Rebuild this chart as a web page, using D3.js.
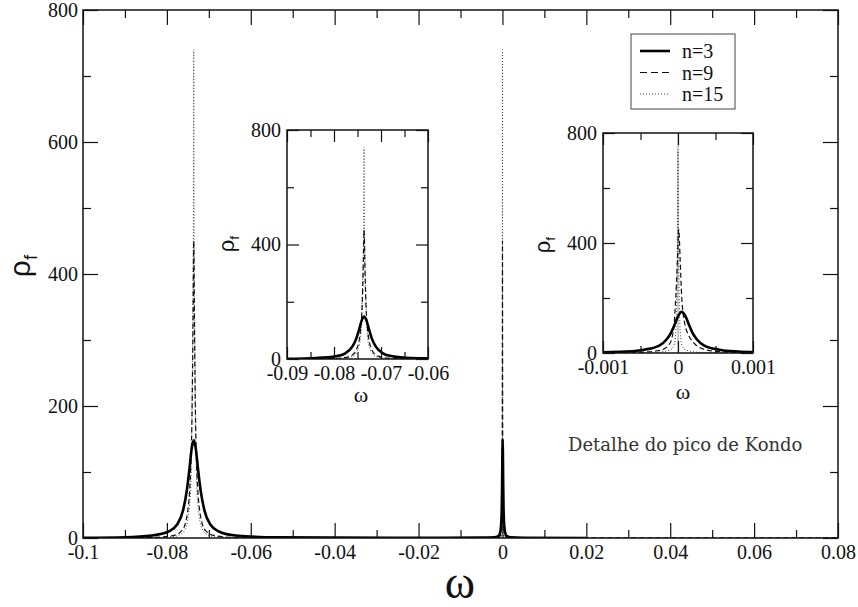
<!DOCTYPE html>
<meta charset="utf-8">
<style>
body { margin: 0; background: #fff; }
svg { display: block; }
.axis .domain { display: none; }
.axis line { stroke: #111; stroke-width: 1.2; }
.axis text { fill: #111; }
</style>
<svg width="858" height="607"></svg>
<script src="https://d3js.org/d3.v7.min.js"></script>
<script>

// rho_f(omega), [omega, rho]
var seriesN3 = [
  [-0.1, 0.4], [-0.09, 1.1], [-0.0836, 3.7], [-0.0796, 9.8], [-0.0776, 20], [-0.0761, 43],
  [-0.0752, 74], [-0.0746, 106], [-0.0741, 135], [-0.0736, 148], [-0.0731, 135], [-0.0726, 106],
  [-0.072, 74], [-0.0711, 43], [-0.0696, 20], [-0.0676, 9.8], [-0.0636, 3.7], [-0.0536, 1.0],
  [-0.04, 0.5], [-0.02, 0.4], [-0.005, 0.5], [-0.002, 0.9], [-0.001, 2.9], [-0.0007, 5.2],
  [-0.00045, 12], [-0.00025, 27], [-0.00015, 50], [-0.00009, 75], [-0.00005, 100], [0, 133],
  [0.00005, 150], [0.0001, 133], [0.00015, 100], [0.00019, 75], [0.00025, 50], [0.00035, 27],
  [0.00055, 12], [0.0008, 5.2], [0.00105, 2.9], [0.002, 0.9], [0.005, 0.3], [0.02, 0.1]
];
var seriesN9 = [
  [-0.1, 0.15], [-0.0836, 0.8], [-0.0786, 3.5], [-0.0766, 10], [-0.0756, 22], [-0.0751, 38],
  [-0.0746, 70], [-0.0743, 110], [-0.074, 190], [-0.0738, 300], [-0.0736, 450], [-0.0734, 300],
  [-0.0732, 190], [-0.0729, 110], [-0.0726, 70], [-0.0721, 38], [-0.0716, 22], [-0.0706, 10],
  [-0.0686, 3.5], [-0.0636, 0.8], [-0.04, 0.15], [-0.005, 0.12], [-0.001, 0.8], [-0.0005, 3],
  [-0.0003, 7], [-0.00018, 16], [-0.00012, 30], [-0.00008, 55], [-0.00005, 110], [-0.00003, 200],
  [-0.00001, 320], [0.00001, 450], [0.00003, 330], [0.00005, 200], [0.00007, 140], [0.0001, 95],
  [0.00014, 65], [0.0002, 40], [0.0003, 18], [0.0005, 6], [0.001, 1.2], [0.005, 0.12], [0.08, 0.05]
];
var seriesN15 = [
  [-0.1, 0.08], [-0.0836, 0.5], [-0.0786, 2], [-0.0766, 6], [-0.0756, 14], [-0.0751, 25],
  [-0.0746, 50], [-0.0743, 80], [-0.0741, 150], [-0.0739, 280], [-0.0737, 450], [-0.0736, 740],
  [-0.0735, 450], [-0.0733, 280], [-0.0731, 150], [-0.0729, 80], [-0.0726, 50], [-0.0721, 25],
  [-0.0716, 14], [-0.0706, 6], [-0.0686, 2], [-0.0636, 0.5], [-0.04, 0.08], [-0.005, 0.06],
  [-0.0005, 0.8], [-0.0003, 2], [-0.0002, 5], [-0.0001, 12], [-0.00007, 18], [-0.00004, 45],
  [-0.00002, 150], [-0.00001, 370], [0, 740], [0.00001, 370], [0.00002, 150], [0.00004, 45],
  [0.00007, 18], [0.0001, 12], [0.0002, 5], [0.0003, 2], [0.0005, 0.8], [0.005, 0.06], [0.08, 0.03]
];

var legendLabels = ["n=3", "n=9", "n=15"];

var mainXTicks = [-0.1, -0.08, -0.06, -0.04, -0.02, 0, 0.02, 0.04, 0.06, 0.08];
var mainXLabels = ["-0.1", "-0.08", "-0.06", "-0.04", "-0.02", "0", "0.02", "0.04", "0.06", "0.08"];
var mainXMinor = [-0.09, -0.07, -0.05, -0.03, -0.01, 0.01, 0.03, 0.05, 0.07];
var mainYTicks = [0, 200, 400, 600, 800];
var mainYMinor = [100, 300, 500, 700];

var inset1XTicks = [-0.09, -0.08, -0.07, -0.06];
var inset1XLabels = ["-0.09", "-0.08", "-0.07", "-0.06"];
var inset1XMinor = [-0.085, -0.075, -0.065];
var inset2XTicks = [-0.001, 0, 0.001];
var inset2XLabels = ["-0.001", "0", "0.001"];
var inset2XMinor = [-0.0005, 0.0005];
var insetYTicks = [0, 400, 800];
var insetYMinor = [200, 600];

var note = "Detalhe do pico de Kondo";

var serif = "Liberation Serif";
var svg = d3.select("svg");
var series = [seriesN3, seriesN9, seriesN15];
var styles = [
  {stroke: "#000", width: 2.6, dash: null},
  {stroke: "#111", width: 1.2, dash: "5,3"},
  {stroke: "#444", width: 1, dash: "1,2"}
];

function panel(p) {
  var x = d3.scaleLinear().domain(p.xd).range([p.left, p.right]);
  var y = d3.scaleLinear().domain([0, 800]).range([p.bottom, p.top]);
  var g = svg.append("g");

  g.append("rect")
      .attr("x", p.left).attr("y", p.top)
      .attr("width", p.right - p.left).attr("height", p.bottom - p.top)
      .attr("fill", "#fff");

  var clipId = "clip" + p.id;
  g.append("clipPath").attr("id", clipId)
    .append("rect")
      .attr("x", p.left).attr("y", p.top)
      .attr("width", p.right - p.left).attr("height", p.bottom - p.top);

  var plot = g.append("g").attr("clip-path", "url(#" + clipId + ")");

  if (p.zeroLine) {
    plot.append("line")
        .attr("x1", x(0)).attr("x2", x(0))
        .attr("y1", p.top).attr("y2", p.bottom)
        .attr("stroke", "#999").attr("stroke-width", 1);
  }

  var line = d3.line()
      .x(function(d) { return x(d[0]); })
      .y(function(d) { return y(d[1]); })
      .curve(d3.curveMonotoneX);

  // n=15 first so the thick n=3 line stays on top
  [2, 1, 0].forEach(function(i) {
    plot.append("path")
        .datum(series[i])
        .attr("fill", "none")
        .attr("stroke", styles[i].stroke)
        .attr("stroke-width", styles[i].width)
        .attr("stroke-dasharray", styles[i].dash)
        .attr("d", line);
  });

  var font = function(sel) {
    sel.attr("font-family", serif).attr("font-size", p.fs);
  };

  // bottom, with labels
  g.append("g").attr("class", "axis")
      .attr("transform", "translate(0," + p.bottom + ")")
      .call(d3.axisBottom(x).tickValues(p.xt).tickSize(-p.major).tickPadding(p.xpad)
        .tickFormat(function(d, i) { return p.xl[i]; }))
      .call(font);
  g.append("g").attr("class", "axis")
      .attr("transform", "translate(0," + p.bottom + ")")
      .call(d3.axisBottom(x).tickValues(p.xm).tickSize(-p.minor).tickFormat(""));
  // top
  g.append("g").attr("class", "axis")
      .attr("transform", "translate(0," + p.top + ")")
      .call(d3.axisTop(x).tickValues(p.xt).tickSize(-p.major).tickFormat(""));
  g.append("g").attr("class", "axis")
      .attr("transform", "translate(0," + p.top + ")")
      .call(d3.axisTop(x).tickValues(p.xm).tickSize(-p.minor).tickFormat(""));
  // left, with labels
  g.append("g").attr("class", "axis")
      .attr("transform", "translate(" + p.left + ",0)")
      .call(d3.axisLeft(y).tickValues(p.yt).tickSize(-p.major).tickPadding(p.ypad)
        .tickFormat(d3.format("d")))
      .call(font);
  g.append("g").attr("class", "axis")
      .attr("transform", "translate(" + p.left + ",0)")
      .call(d3.axisLeft(y).tickValues(p.ym).tickSize(-p.minor).tickFormat(""));
  // right
  g.append("g").attr("class", "axis")
      .attr("transform", "translate(" + p.right + ",0)")
      .call(d3.axisRight(y).tickValues(p.yt).tickSize(-p.major).tickFormat(""));
  g.append("g").attr("class", "axis")
      .attr("transform", "translate(" + p.right + ",0)")
      .call(d3.axisRight(y).tickValues(p.ym).tickSize(-p.minor).tickFormat(""));

  // frame
  g.append("rect")
      .attr("x", p.left).attr("y", p.top)
      .attr("width", p.right - p.left).attr("height", p.bottom - p.top)
      .attr("fill", "none").attr("stroke", "#111").attr("stroke-width", 1.5);

  // axis titles
  var yl = g.append("text")
      .attr("transform", "translate(" + p.rhoX + "," + p.rhoY + ") rotate(-90)")
      .attr("text-anchor", "middle")
      .attr("font-family", "Liberation Sans")
      .attr("font-size", p.rhoFs)
      .attr("fill", "#111");
  yl.append("tspan").text("ρ");
  yl.append("tspan").attr("font-size", p.rhoFs * 0.62).attr("dy", p.rhoFs * 0.22).text("f");

  g.append("text")
      .attr("x", p.omX).attr("y", p.omY)
      .attr("text-anchor", "middle")
      .attr("font-family", serif)
      .attr("font-size", p.omFs)
      .attr("fill", "#111")
      .text("ω");
}

panel({id: "main", xd: [-0.1, 0.08], left: 83, right: 838, top: 10, bottom: 538,
  xt: mainXTicks, xl: mainXLabels, xm: mainXMinor, yt: mainYTicks, ym: mainYMinor,
  major: 15, minor: 8, fs: 20, xpad: 7, ypad: 5,
  rhoX: 30, rhoY: 266, rhoFs: 30, omX: 460, omY: 598, omFs: 46});

panel({id: "in1", xd: [-0.09, -0.06], left: 287, right: 428, top: 130, bottom: 359,
  xt: inset1XTicks, xl: inset1XLabels, xm: inset1XMinor, yt: insetYTicks, ym: insetYMinor,
  major: 12, minor: 7, fs: 20, xpad: 7, ypad: 6,
  rhoX: 234, rhoY: 244, rhoFs: 22, omX: 361, omY: 402, omFs: 22});

panel({id: "in2", xd: [-0.001, 0.001], left: 603, right: 753, top: 133, bottom: 353,
  xt: inset2XTicks, xl: inset2XLabels, xm: inset2XMinor, yt: insetYTicks, ym: insetYMinor,
  major: 12, minor: 7, fs: 20, xpad: 7, ypad: 6,
  rhoX: 550, rhoY: 245, rhoFs: 22, omX: 683, omY: 399, omFs: 22, zeroLine: true});

// legend
var legend = svg.append("g");
legend.append("rect")
    .attr("x", 631).attr("y", 34).attr("width", 104).attr("height", 75)
    .attr("fill", "#fff").attr("stroke", "#444").attr("stroke-width", 1);

var item = legend.selectAll("g.item")
    .data(legendLabels)
  .enter().append("g")
    .attr("class", "item")
    .attr("transform", function(d, i) { return "translate(0," + (51 + i * 21.5) + ")"; });

item.append("line")
    .attr("x1", 640).attr("x2", 670)
    .attr("stroke", function(d, i) { return styles[i].stroke; })
    .attr("stroke-width", function(d, i) { return i === 0 ? 2.6 : 1.2; })
    .attr("stroke-dasharray", function(d, i) { return i === 1 ? "7,4" : (i === 2 ? "1,2" : null); });

item.append("text")
    .attr("x", 682)
    .attr("dy", "0.35em")
    .attr("font-family", serif)
    .attr("font-size", 20)
    .attr("fill", "#111")
    .text(function(d) { return d; });

svg.append("text")
    .attr("x", 568).attr("y", 451)
    .attr("font-family", "DejaVu Serif")
    .attr("font-size", 18)
    .attr("fill", "#333")
    .text(note);

</script>
